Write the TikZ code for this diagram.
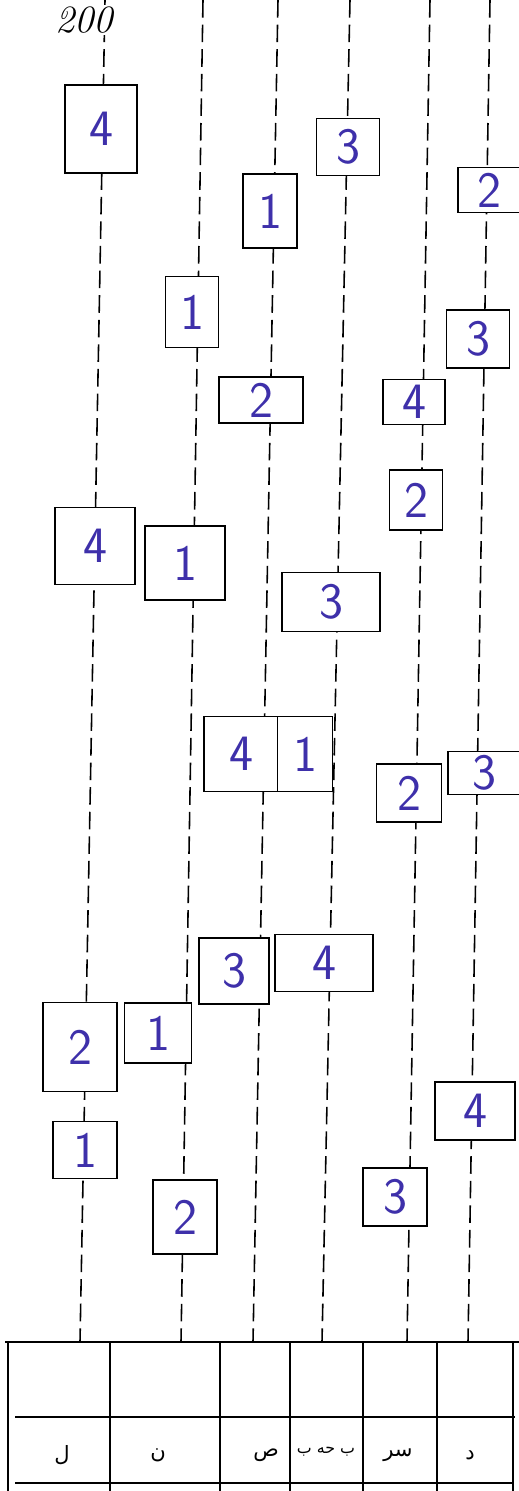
\documentclass[tikz,border=0pt]{standalone}
\usepackage{fontspec}
\usepackage{tikz}
\usetikzlibrary{positioning}
\newfontfamily\arabicfont[Script=Arabic]{DejaVu Sans}
\TeXXeTstate=1
\definecolor{penblue}{RGB}{62,48,170}

\begin{document}
\begin{tikzpicture}[x=0.2mm, y=-0.2mm,
			colline/.style={draw, line width=0.9pt, dash pattern=on 10pt off 4pt},
			slot/.style={draw, fill=white, line width=0.7pt, inner sep=0pt,
				text=penblue, font=\fontsize{29}{29}\selectfont\sffamily},
			rule/.style={draw, line width=1pt},
			cell/.style={font=\arabicfont\fontsize{12}{12}\selectfont}
		]
		\useasboundingbox (0,0) rectangle (519,1491);
		% columns
		\coordinate (top1) at (105,0);   \coordinate (bot1) at (80,1342);
		\coordinate (top2) at (203,0);   \coordinate (bot2) at (181,1342);
		\coordinate (top3) at (278,0);   \coordinate (bot3) at (253,1342);
		\coordinate (top4) at (350,0);   \coordinate (bot4) at (322,1342);
		\coordinate (top5) at (430,0);   \coordinate (bot5) at (407,1342);
		\coordinate (top6) at (490,0);   \coordinate (bot6) at (468,1342);
		\foreach \i in {1,...,6}
			\draw[colline] (top\i) -- (bot\i);
		\node[font=\itshape\fontsize{22}{22}\selectfont, fill=white, inner sep=1pt] (mark) at (84,20) {200};
		% boxes (sizes in picture units of 0.2mm)
		\node[slot, minimum width=72*0.2mm, minimum height=88*0.2mm] (b1) at (101,129) {4};
		\node[slot, minimum width=63*0.2mm, minimum height=57*0.2mm] (b2) at (348,147) {3};
		\node[slot, minimum width=54*0.2mm, minimum height=74*0.2mm] (b3) at (270,211) {1};
		\node[slot, minimum width=62*0.2mm, minimum height=45*0.2mm] (b4) at (489,190) {2};
		\node[slot, minimum width=53*0.2mm, minimum height=71*0.2mm] (b5) at (192,312) {1};
		\node[slot, minimum width=63*0.2mm, minimum height=58*0.2mm] (b6) at (478,339) {3};
		\node[slot, minimum width=84*0.2mm, minimum height=46*0.2mm] (b7) at (261,400) {2};
		\node[slot, minimum width=62*0.2mm, minimum height=45*0.2mm] (b8) at (414,402) {4};
		\node[slot, minimum width=53*0.2mm, minimum height=60*0.2mm] (b9) at (416,500) {2};
		\node[slot, minimum width=80*0.2mm, minimum height=77*0.2mm] (b10) at (95,546) {4};
		\node[slot, minimum width=80*0.2mm, minimum height=74*0.2mm] (b11) at (185,563) {1};
		\node[slot, minimum width=98*0.2mm, minimum height=59*0.2mm] (b12) at (331,602) {3};
		\node[slot, minimum width=74*0.2mm, minimum height=75*0.2mm] (b13) at (241,754) {4};
		\node[slot, minimum width=55*0.2mm, minimum height=75*0.2mm] (b14) at (305,754) {1};
		\node[slot, minimum width=65*0.2mm, minimum height=58*0.2mm] (b15) at (409,793) {2};
		\node[slot, minimum width=72*0.2mm, minimum height=43*0.2mm] (b16) at (484,773) {3};
		\node[slot, minimum width=70*0.2mm, minimum height=66*0.2mm] (b17) at (234,971) {3};
		\node[slot, minimum width=98*0.2mm, minimum height=57*0.2mm] (b18) at (324,963) {4};
		\node[slot, minimum width=74*0.2mm, minimum height=89*0.2mm] (b19) at (80,1047) {2};
		\node[slot, minimum width=67*0.2mm, minimum height=60*0.2mm] (b20) at (158,1033) {1};
		\node[slot, minimum width=64*0.2mm, minimum height=57*0.2mm] (b21) at (85,1150) {1};
		\node[slot, minimum width=64*0.2mm, minimum height=74*0.2mm] (b22) at (185,1217) {2};
		\node[slot, minimum width=64*0.2mm, minimum height=58*0.2mm] (b23) at (395,1197) {3};
		\node[slot, minimum width=80*0.2mm, minimum height=58*0.2mm] (b24) at (475,1111) {4};
		% table
		\draw[rule] (5,1342) -- (519,1342);
		\draw[rule] (15,1417) -- (515,1417);
		\draw[rule] (15,1483) -- (513,1483);
		\foreach \x in {8,110,220,290,363,437,513}
			\draw[rule] (\x,1342) -- (\x,1491);
		\node[cell] (lab1) at (62,1455) {\beginR ل\endR};
		\node[cell] (lab2) at (158,1455) {\beginR ن\endR};
		\node[cell] (lab3) at (266,1455) {\beginR ص\endR};
		\node[cell, font=\arabicfont\fontsize{9}{9}\selectfont] (lab4) at (326,1452) {\beginR ب حه ب\endR};
		\node[cell] (lab5) at (398,1455) {\beginR سر\endR};
		\node[cell] (lab6) at (470,1455) {\beginR د\endR};
	\end{tikzpicture}
\end{document}
